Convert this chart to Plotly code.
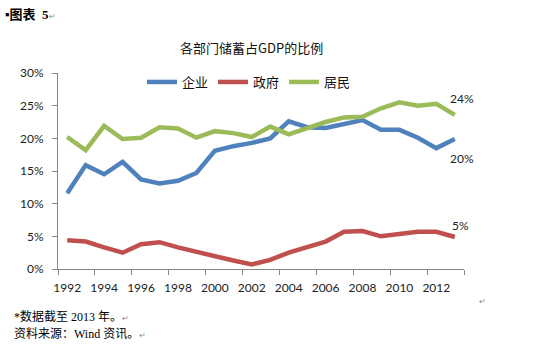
import plotly.graph_objects as go

years = list(range(1992, 2014))
enterprise = [11.6, 15.9, 14.5, 16.4, 13.7, 13.1, 13.5, 14.7, 18.1, 18.8, 19.3, 20.0,
              22.6, 21.7, 21.6, 22.2, 22.8, 21.3, 21.3, 20.1, 18.5, 19.9]
government = [4.4, 4.2, 3.3, 2.5, 3.8, 4.1, 3.3, 2.6, 1.9, 1.3, 0.7, 1.4,
              2.5, 3.4, 4.2, 5.7, 5.8, 5.0, 5.3, 5.7, 5.7, 4.9]
household = [20.2, 18.2, 21.9, 19.9, 20.1, 21.7, 21.5, 20.1, 21.1, 20.8, 20.2, 21.8,
             20.6, 21.6, 22.5, 23.2, 23.3, 24.6, 25.5, 25.0, 25.3, 23.6]
series_names = ["企业", "政府", "居民"]
colors = ["#4F81BD", "#C0504D", "#9BBB59"]
x_labels = list(range(1992, 2013, 2))
y_ticks = [0, 5, 10, 15, 20, 25, 30]
title = "各部门储蓄占GDP的比例"
note1 = "*数据截至 2013 年。"
note2 = "资料来源：Wind 资讯。"

W, H = 550, 350
L, R, T, B = 58, 464, 73, 269


def px(x):
    return (x - L) / (R - L)


def py(y):
    return (B - y) / (B - T)


FONT = "Lato, 'Noto Sans CJK SC', sans-serif"
fig = go.Figure()
all_series = [enterprise, government, household]
for name, vals, c in zip(series_names, all_series, colors):
    fig.add_trace(go.Scatter(x=years, y=vals, name=name, mode="lines",
                             line=dict(color=c, width=4.5)))

# end labels
shifts = [(7, -20), (6, 11), (7, 16)]
for vals, (xs, ys) in zip(all_series, shifts):
    fig.add_annotation(x=years[-1], y=vals[-1], text=f"{round(vals[-1])}%",
                       showarrow=False, xshift=xs, yshift=ys,
                       font=dict(family=FONT, size=12, color="#222"))

mark = '<span style="font-size:8px;color:#8a8a8a">↵</span>'
fig.add_annotation(xref="paper", yref="paper", x=px(251), y=py(48), text=title,
                   showarrow=False, xanchor="center", yanchor="middle",
                   font=dict(family="'Noto Sans CJK SC', sans-serif", size=13, color="#111"))
fig.add_annotation(xref="paper", yref="paper", x=px(3), y=py(14),
                   text="<b>▪图表  5</b>" + mark,
                   showarrow=False, xanchor="left", yanchor="middle",
                   font=dict(family="'Liberation Serif', 'Noto Sans CJK SC'", size=13, color="#000"))
fig.add_annotation(xref="paper", yref="paper", x=px(12), y=py(316),
                   text=note1 + mark,
                   showarrow=False, xanchor="left", yanchor="middle",
                   font=dict(family="'Liberation Serif', 'Noto Sans CJK SC'", size=12, color="#000"))
fig.add_annotation(xref="paper", yref="paper", x=px(12), y=py(334),
                   text=note2 + mark,
                   showarrow=False, xanchor="left", yanchor="middle",
                   font=dict(family="'Liberation Serif', 'Noto Sans CJK SC'", size=12, color="#000"))
fig.add_annotation(xref="paper", yref="paper", x=px(482), y=py(300),
                   text=mark, showarrow=False, xanchor="center", yanchor="middle",
                   font=dict(size=8, color="#8a8a8a"))

fig.update_layout(
    width=W, height=H,
    margin=dict(l=L, r=W - R, t=T, b=H - B, pad=0),
    paper_bgcolor="white", plot_bgcolor="white",
    showlegend=True,
    legend=dict(orientation="h", x=px(142), y=py(82), xanchor="left", yanchor="middle",
                font=dict(family="'Noto Sans CJK SC', sans-serif", size=13, color="#111"),
                bgcolor="rgba(0,0,0,0)", tracegroupgap=0, itemwidth=30,
                entrywidth=26, entrywidthmode="pixels"),
    xaxis=dict(range=[1991.5, 2013.5], tickmode="array", tickvals=x_labels,
               ticktext=[str(v) for v in x_labels], ticks="", showgrid=False,
               showline=True, linecolor="#868686", linewidth=1, zeroline=False,
               tickfont=dict(family=FONT, size=12, color="#222"),
               ticklabelstandoff=8,
               minor=dict(tickmode="array", tickvals=[1991.5 + 2 * k for k in range(12)],
                          ticks="outside", ticklen=5, tickcolor="#868686", showgrid=False)),
    yaxis=dict(range=[0, 30], tickmode="array", tickvals=y_ticks,
               ticktext=[f"{v}%" for v in y_ticks], ticks="outside", ticklen=5,
               tickcolor="#868686", showgrid=False, showline=True, linecolor="#868686",
               linewidth=1, zeroline=False,
               tickfont=dict(family=FONT, size=12, color="#222"), ticklabelstandoff=6),
)
fig.write_html("out.html")
